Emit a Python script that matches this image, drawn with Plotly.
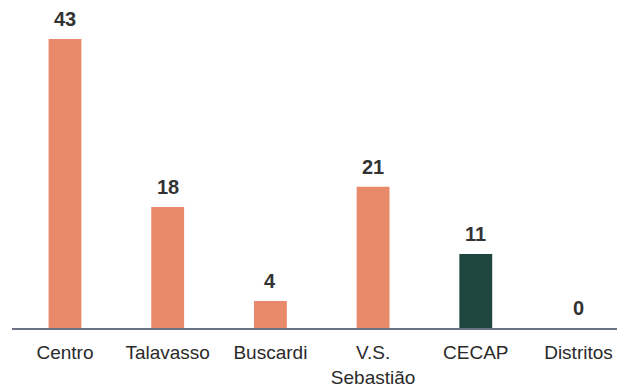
import plotly.graph_objects as go

categories = ["Centro", "Talavasso", "Buscardi", "V.S.<br>Sebastião", "CECAP", "Distritos"]
values = [43, 18, 4, 21, 11, 0]
bar_colors = ["#e8896a", "#e8896a", "#e8896a", "#e8896a", "#1f4540", "#e8896a"]

x_idx = list(range(len(categories)))
FONT = "Liberation Sans, Arial, sans-serif"

fig = go.Figure(go.Bar(
    x=x_idx,
    y=values,
    marker=dict(color=bar_colors, line=dict(width=0)),
    width=0.32,
    cliponaxis=False,
))

for xi, v in zip(x_idx, values):
    fig.add_annotation(
        x=xi, y=v, text=f"<b>{v}</b>", showarrow=False,
        yanchor="bottom", yshift=7,
        font=dict(family=FONT, size=20, color="#333333"),
    )

fig.update_layout(
    width=617, height=388,
    margin=dict(l=12, r=0, t=0, b=60),
    paper_bgcolor="white", plot_bgcolor="white",
    showlegend=False,
    font=dict(family=FONT, color="#2a2a2a"),
)
fig.update_xaxes(
    tickmode="array", tickvals=x_idx, ticktext=categories,
    range=[-0.516, 5.375], automargin=False,
    showline=True, linecolor="#6b7385", linewidth=2,
    showgrid=False, zeroline=False,
    ticks="outside", ticklen=6, tickcolor="rgba(0,0,0,0)",
    tickfont=dict(size=19, color="#2a2a2a"),
)
fig.update_yaxes(range=[0, 48.8], visible=False, showgrid=False, automargin=False)

fig.write_html("out.html", config={"displayModeBar": False},
               post_script="document.body.style.margin='0';")
